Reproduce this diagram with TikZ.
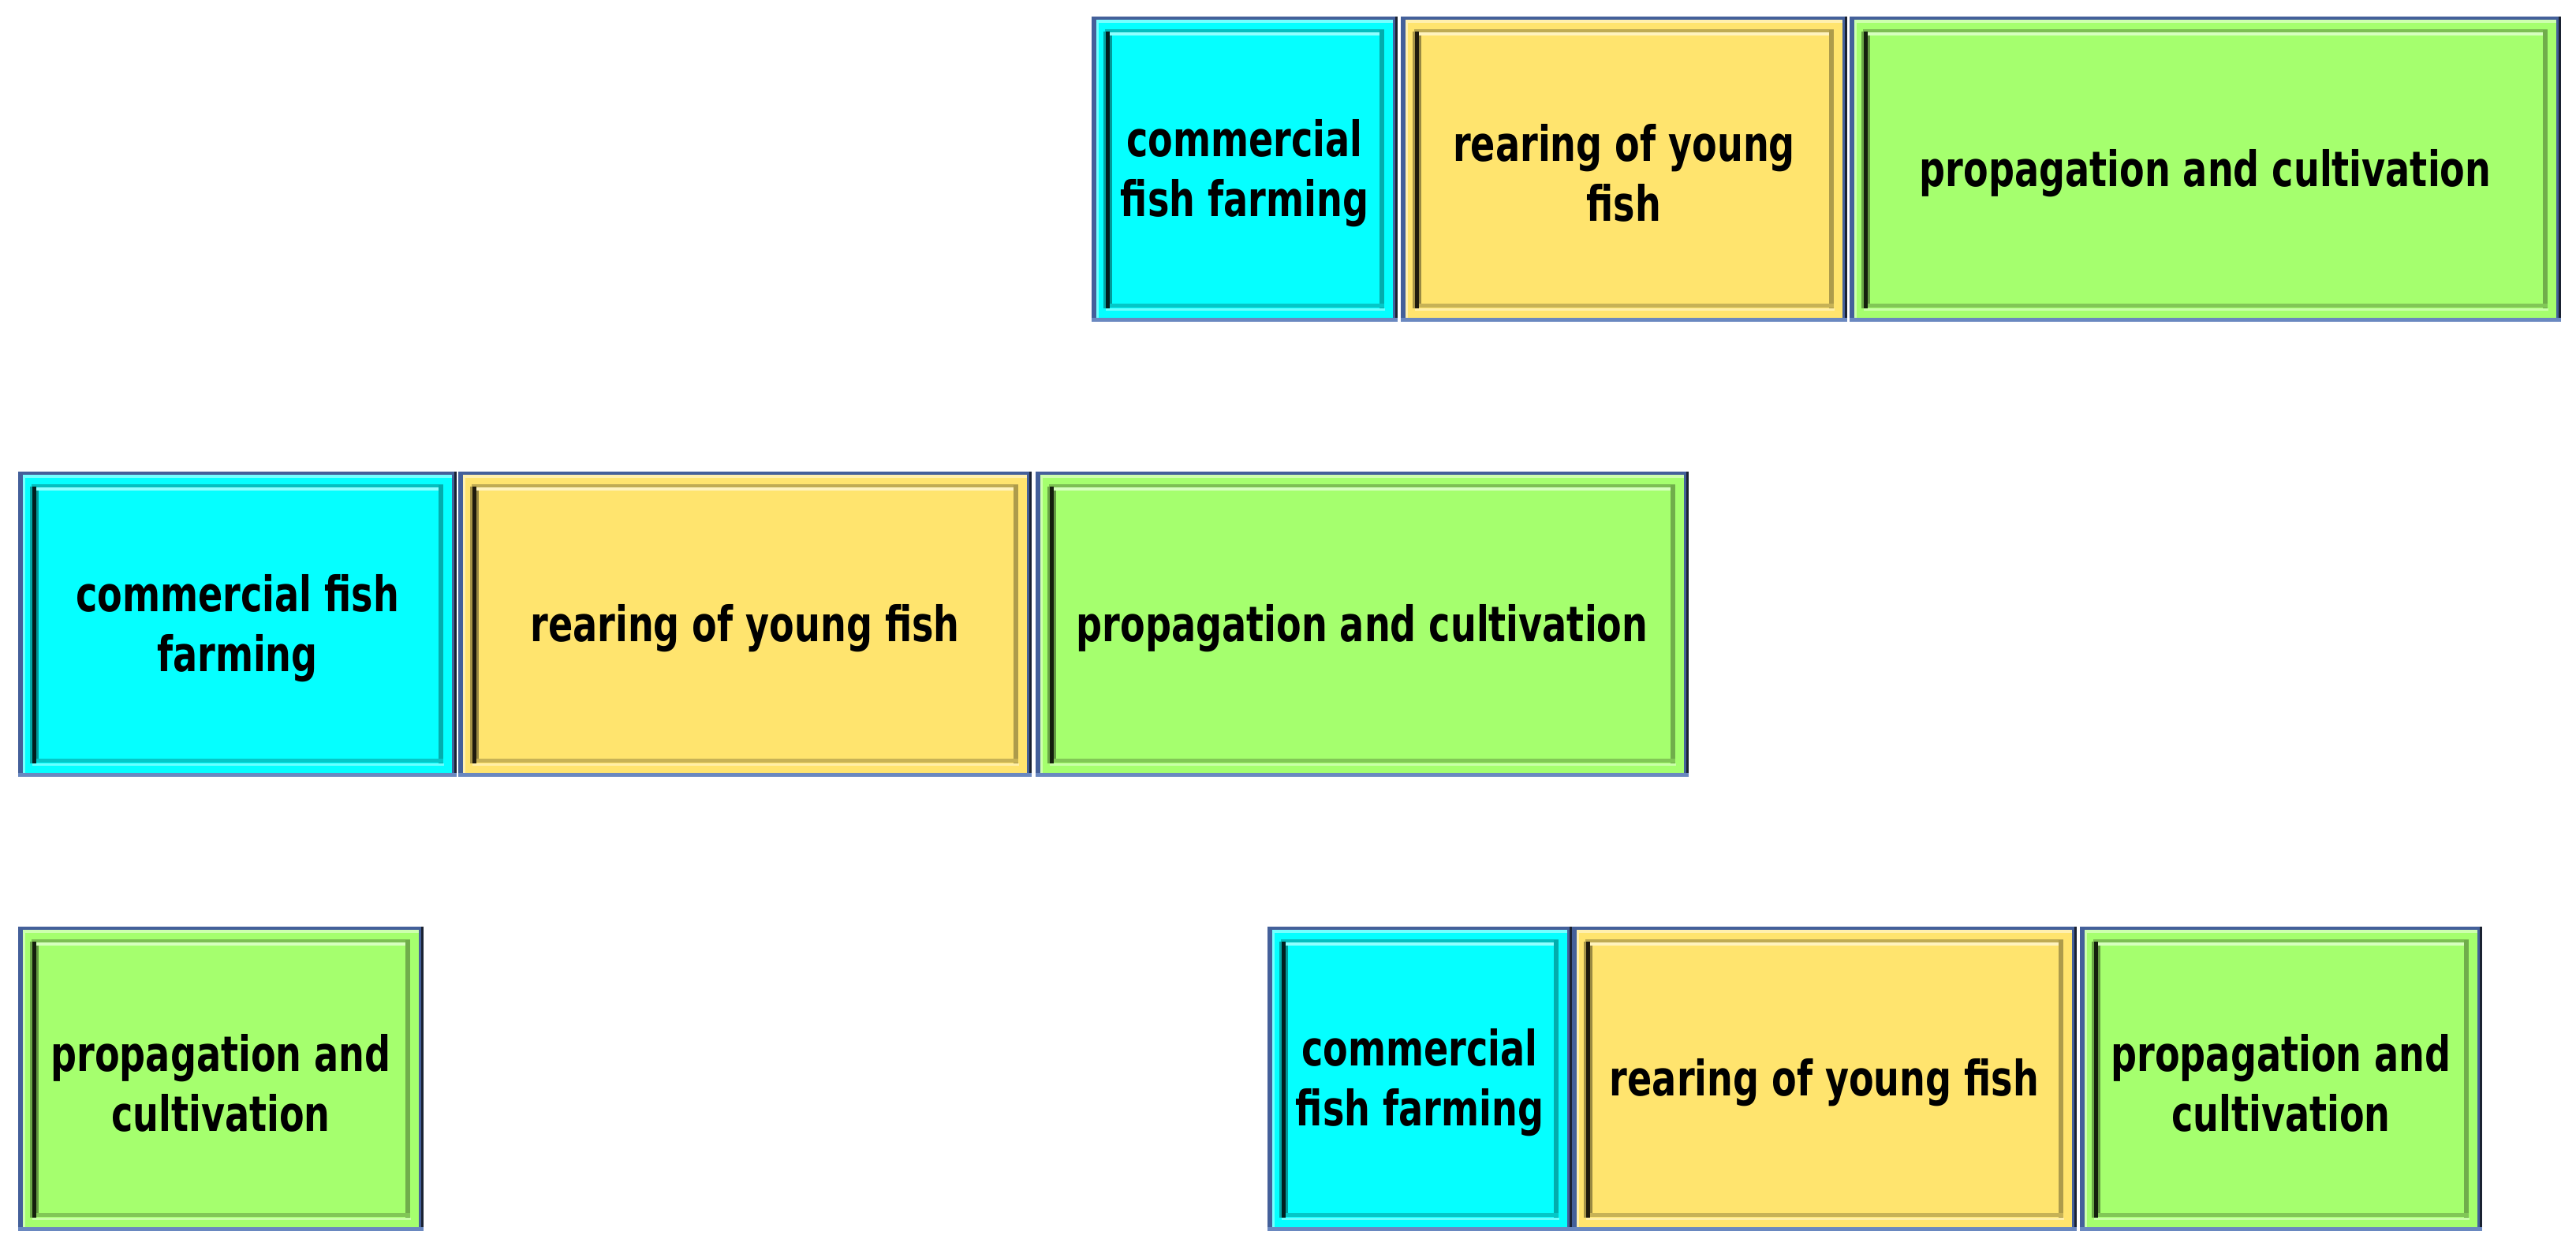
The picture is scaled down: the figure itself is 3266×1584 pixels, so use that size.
\documentclass[tikz,border=0pt]{standalone}
\usepackage{fontspec}
\newfontfamily\lblfont[FakeStretch=0.745]{DejaVu Sans}
\definecolor{cyanF}{HTML}{05FFFF}
\definecolor{yellowF}{HTML}{FFE46E}
\definecolor{greenF}{HTML}{A5FF6E}
\definecolor{bordblue}{HTML}{44609A}
\definecolor{bordlight}{HTML}{6A88C0}
\definecolor{bordblack}{HTML}{1A2232}
\tikzset{
  lbl/.style={align=center, text=black, inner sep=0pt,
    font=\lblfont\bfseries\fontsize{17.6}{21.6}\selectfont}
}
\newcommand{\bevbox}[7]{%
  \fill[#6] (#2,#3) rectangle (#4,#5);
  \fill[#6!55!white] (#2+4,#3+4) rectangle (#4-4,#3+8);
  \fill[#6!55!white] (#2+6,#3+4) rectangle (#2+9,#5-4);
  \fill[#6!75!black] (#2+17,#3+16) rectangle (#4-17,#3+20);
  \fill[#6!45!white] (#2+21,#3+20) rectangle (#4-20,#3+24);
  \fill[#6!65!black] (#2+15,#3+19) rectangle (#2+18,#5-17);
  \fill[black!88!#6] (#2+18,#3+19) rectangle (#2+23,#5-17);
  \fill[#6!60!black] (#2+23,#3+24) rectangle (#2+26,#5-19);
  \fill[#6!68!black] (#4-23,#3+17) rectangle (#4-17,#5-17);
  \fill[#6!78!black] (#2+23,#5-23) rectangle (#4-17,#5-18);
  \fill[#6!60!white] (#2+18,#5-17) rectangle (#4-16,#5-14);
  \fill[bordblue] (#2,#3) rectangle (#4,#3+4);
  \fill[bordblue] (#2,#3) rectangle (#2+6,#5);
  \fill[bordblue] (#4-6,#3) rectangle (#4,#5);
  \fill[bordblack] (#4-3,#3) rectangle (#4,#5);
  \fill[bordlight] (#2,#5-5) rectangle (#4,#5);
  \node[lbl] (#1) at ({(#2+#4)/2},{(#3+#5)/2+5}) {#7};
}
\begin{document}
\begin{tikzpicture}[x=0.01cm,y=-0.01cm]
\useasboundingbox[fill=white] (0,0) rectangle (3266,1584);
% row 1
\bevbox{cA}{1384}{21}{1772}{408}{cyanF}{commercial\\fish farming}
\bevbox{yA}{1776}{21}{2342}{408}{yellowF}{rearing of young\\fish}
\bevbox{gA}{2345}{21}{3247}{408}{greenF}{propagation and cultivation}
% row 2
\bevbox{cB}{23}{598}{579}{985}{cyanF}{commercial fish\\farming}
\bevbox{yB}{581}{598}{1308}{985}{yellowF}{rearing of young fish}
\bevbox{gB}{1313}{598}{2141}{985}{greenF}{propagation and cultivation}
% row 3
\bevbox{gC}{23}{1175}{537}{1561}{greenF}{propagation and\\cultivation}
\bevbox{cC}{1607}{1175}{1993}{1561}{cyanF}{commercial\\fish farming}
\bevbox{yC}{1993}{1175}{2633}{1561}{yellowF}{rearing of young fish}
\bevbox{gD}{2637}{1175}{3147}{1561}{greenF}{propagation and\\cultivation}
\end{tikzpicture}
\end{document}
